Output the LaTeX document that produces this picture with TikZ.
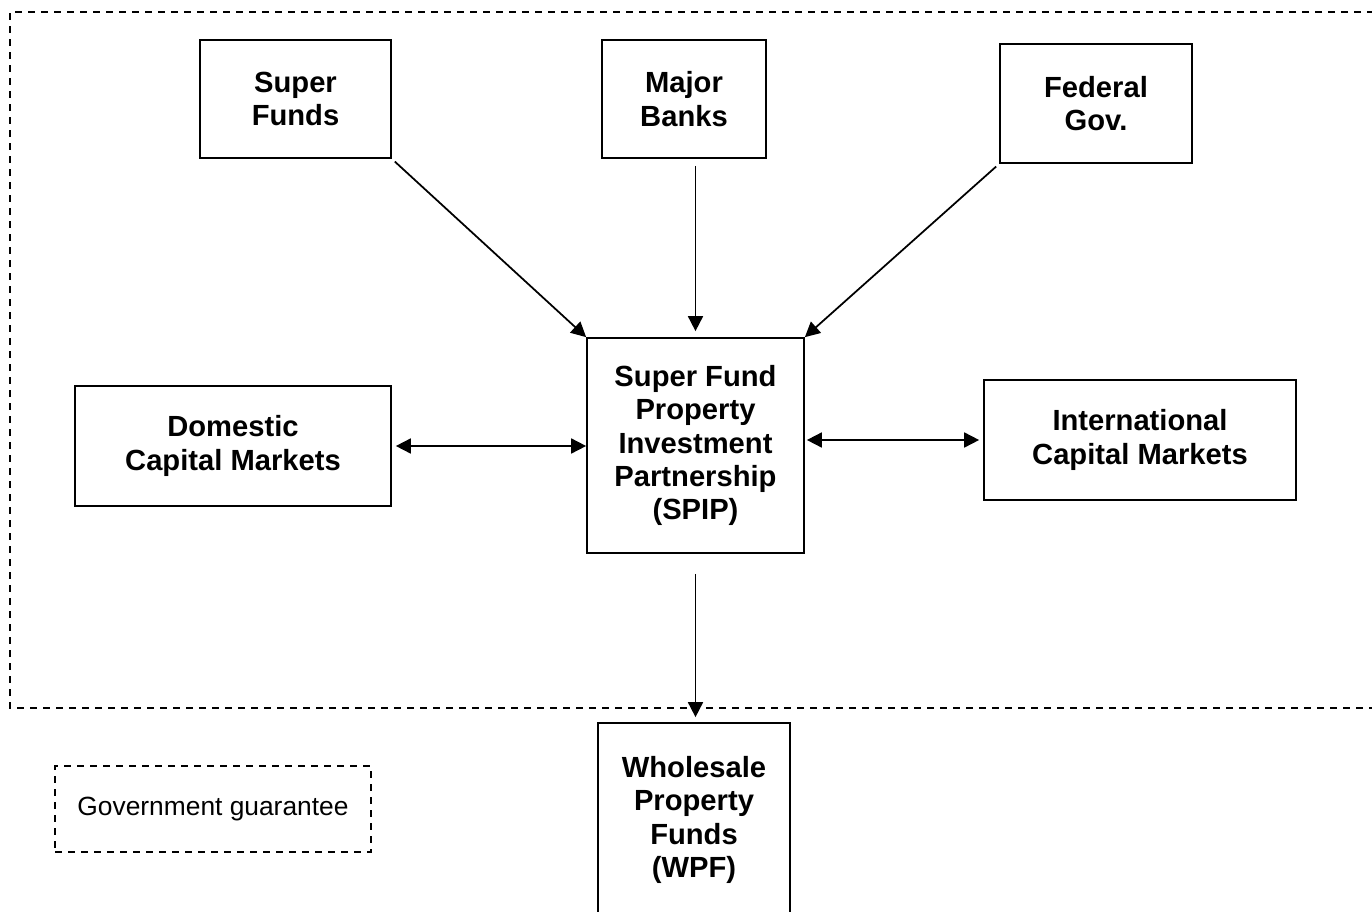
\documentclass[tikz,border=0pt]{standalone}
\usepackage{fontspec}
\setmainfont{Liberation Sans}
\usetikzlibrary{arrows.meta}

\begin{document}
\begin{tikzpicture}[x=0.02cm, y=-0.02cm,
    every node/.style={align=center, font=\bfseries\fontsize{16.6}{19}\selectfont},
    box/.style={draw, line width=1pt, inner sep=0pt},
    flow/.style={-{Triangle[length=8.5pt, width=8.5pt]}, line width=1pt},
    both/.style={{Triangle[length=8.5pt, width=8.5pt]}-{Triangle[length=8.5pt, width=8.5pt]}, line width=1pt},
    guarantee/.style={draw, dash pattern=on 4pt off 3.4pt, line width=0.9pt}]
  \useasboundingbox (0,0) rectangle (1372,912);
  \draw[guarantee] (1400,12) -- (10,12) -- (10,708) -- (1400,708);
  \node[box, minimum width=3.82cm, minimum height=2.36cm] (super) at (295.5,99) {Super\\Funds};
  \node[box, minimum width=3.28cm, minimum height=2.36cm] (banks) at (684,99) {Major\\Banks};
  \node[box, minimum width=3.84cm, minimum height=2.38cm] (fed) at (1096,103.5) {Federal\\Gov.};
  \node[box, minimum width=4.34cm, minimum height=4.30cm] (spip) at (695.5,445.5) {Super Fund\\Property\\Investment\\Partnership\\(SPIP)};
  \node[box, minimum width=6.32cm, minimum height=2.40cm] (dom) at (233,446) {Domestic\\Capital Markets};
  \node[box, minimum width=6.24cm, minimum height=2.40cm] (intl) at (1140,440) {International\\Capital Markets};
  \node[box, minimum width=3.84cm, minimum height=3.88cm] (wpf) at (694,820) {Wholesale\\Property\\Funds\\(WPF)};
  \node[guarantee, minimum width=6.32cm, minimum height=1.72cm, font=\fontsize{15}{18}\selectfont] (legend) at (213,809) {Government guarantee};
  \draw[flow, shorten <=0.08cm] (super.south east) -- (spip.north west);
  \draw[flow, shorten <=0.14cm, shorten >=0.12cm] (spip.north |- banks.south) -- (spip.north);
  \draw[flow, shorten <=0.08cm] (fed.south west) -- (spip.north east);
  \draw[both, shorten <=0.08cm] (dom.east) -- (dom.east -| spip.west);
  \draw[both, shorten <=0.04cm, shorten >=0.08cm] (spip.east |- intl.west) -- (intl.west);
  \draw[flow, shorten <=0.4cm, shorten >=0.1cm] (spip.south) -- (spip.south |- wpf.north);
\end{tikzpicture}
\end{document}
